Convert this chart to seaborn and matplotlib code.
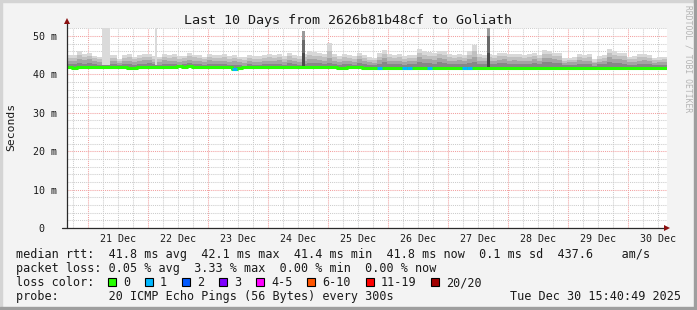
import numpy as np
import pandas as pd
import matplotlib
matplotlib.use("Agg")
import matplotlib.pyplot as plt
import matplotlib.dates as mdates
from matplotlib.ticker import MultipleLocator, FuncFormatter
from matplotlib.patches import Rectangle
import seaborn as sns

# ------------------------------------------------------------------ data
start_time = "2025-12-20 15:40:49"
end_time = "2025-12-30 15:40:49"
bin_hours = 2

rtt_median = [
    42.0, 41.7, 42.0, 42.0, 42.0, 42.0, 41.9, 42.0, 41.8, 42.0,
    41.9, 41.9, 41.7, 41.7, 41.9, 42.0, 41.9, 41.9, 41.9, 41.9,
    41.8, 42.0, 42.1, 42.0, 42.1, 42.0, 41.9, 41.8, 41.8, 41.8,
    41.8, 41.8, 41.8, 41.5, 41.7, 41.8, 41.8, 41.8, 41.8, 41.8,
    41.8, 41.8, 41.8, 41.8, 41.8, 41.8, 41.8, 41.8, 41.8, 41.8,
    41.8, 41.8, 41.8, 41.8, 41.7, 41.7, 41.8, 41.8, 41.8, 41.7,
    41.7, 41.7, 41.7, 41.7, 41.7, 41.7, 41.7, 41.7, 41.7, 41.7,
    41.7, 41.7, 41.7, 41.7, 41.7, 41.7, 41.7, 41.7, 41.7, 41.7,
    41.7, 41.7, 41.7, 41.7, 41.7, 41.7, 41.7, 41.7, 41.7, 41.7,
    41.7, 41.7, 41.7, 41.7, 41.7, 41.7, 41.7, 41.7, 41.7, 41.7,
    41.7, 41.7, 41.7, 41.7, 41.7, 41.7, 41.7, 41.7, 41.7, 41.7,
    41.7, 41.7, 41.7, 41.7, 41.7, 41.7, 41.7, 41.7, 41.7, 41.7,
]
rtt_min = [
    41.5, 41.4, 41.5, 41.5, 41.6, 41.5, 41.5, 41.6, 41.4, 41.5,
    41.5, 41.4, 41.4, 41.4, 41.5, 41.6, 41.5, 41.5, 41.5, 41.5,
    41.4, 41.6, 41.6, 41.6, 41.6, 41.5, 41.5, 41.4, 41.4, 41.4,
    41.4, 41.4, 41.4, 41.1, 41.3, 41.4, 41.4, 41.4, 41.4, 41.4,
    41.4, 41.4, 41.4, 41.4, 41.4, 41.4, 41.4, 41.4, 41.4, 41.4,
    41.4, 41.4, 41.4, 41.4, 41.3, 41.3, 41.4, 41.4, 41.4, 41.3,
    41.3, 41.3, 41.3, 41.3, 41.3, 41.3, 41.3, 41.3, 41.3, 41.3,
    41.3, 41.3, 41.3, 41.3, 41.3, 41.3, 41.3, 41.3, 41.3, 41.3,
    41.3, 41.3, 41.3, 41.3, 41.3, 41.3, 41.3, 41.3, 41.3, 41.3,
    41.3, 41.3, 41.3, 41.3, 41.3, 41.3, 41.3, 41.3, 41.3, 41.3,
    41.3, 41.3, 41.3, 41.3, 41.3, 41.2, 41.3, 41.3, 41.3, 41.3,
    41.3, 41.3, 41.3, 41.3, 41.3, 41.3, 41.3, 41.3, 41.3, 41.3,
]
smoke_q1 = [
    42.7, 42.6, 43.0, 42.8, 42.9, 42.6, 42.5, 42.8, 42.7, 42.6,
    42.4, 42.6, 42.7, 42.5, 42.7, 42.8, 42.9, 42.6, 42.5, 42.8,
    42.7, 42.8, 42.5, 42.6, 42.9, 42.7, 42.6, 42.5, 42.8, 42.7,
    42.6, 42.7, 42.5, 42.4, 42.4, 42.3, 42.6, 42.5, 42.5, 42.7,
    42.7, 42.6, 42.8, 42.5, 42.9, 42.7, 42.5, 42.7, 43.0, 42.9,
    42.9, 42.7, 43.0, 42.8, 42.5, 42.7, 42.6, 42.5, 42.9, 42.6,
    42.4, 42.4, 42.8, 43.1, 42.7, 42.6, 42.7, 42.5, 42.6, 42.6,
    43.2, 43.0, 42.9, 42.8, 43.1, 43.0, 42.7, 42.6, 42.8, 42.7,
    43.0, 43.3, 42.7, 42.6, 42.7, 42.7, 42.9, 42.9, 42.7, 42.8,
    42.7, 42.6, 42.7, 42.9, 42.6, 43.2, 43.1, 42.9, 42.9, 42.4,
    42.4, 42.5, 42.8, 42.7, 42.7, 42.3, 42.6, 42.6, 43.2, 43.0,
    42.9, 42.8, 42.5, 42.5, 42.7, 42.8, 42.7, 42.4, 42.4, 42.5,
]
smoke_q2 = [
    43.5, 43.4, 44.0, 43.7, 43.9, 43.4, 43.2, 43.6, 43.5, 43.4,
    43.0, 43.4, 43.6, 43.2, 43.5, 43.7, 43.8, 43.3, 43.2, 43.7,
    43.5, 43.6, 43.2, 43.4, 43.8, 43.6, 43.4, 43.2, 43.7, 43.5,
    43.4, 43.6, 43.3, 43.4, 43.1, 43.0, 43.4, 43.3, 43.2, 43.5,
    43.6, 43.4, 43.7, 43.3, 43.8, 43.5, 43.2, 43.6, 44.1, 43.9,
    43.8, 43.5, 44.2, 43.6, 43.3, 43.6, 43.4, 43.2, 43.9, 43.4,
    43.1, 43.0, 43.7, 44.2, 43.6, 43.4, 43.6, 43.3, 43.5, 43.4,
    44.4, 44.1, 43.9, 43.8, 44.2, 44.0, 43.5, 43.4, 43.7, 43.5,
    44.0, 44.6, 43.6, 43.4, 43.6, 43.5, 43.8, 43.9, 43.5, 43.7,
    43.6, 43.4, 43.6, 43.9, 43.4, 44.3, 44.2, 43.9, 43.8, 43.0,
    43.1, 43.2, 43.7, 43.5, 43.6, 42.9, 43.3, 43.4, 44.4, 44.1,
    43.9, 43.8, 43.2, 43.3, 43.6, 43.7, 43.5, 43.0, 43.1, 43.2,
]
smoke_q3 = [
    44.3, 44.2, 45.0, 44.5, 44.8, 44.2, 43.9, 44.5, 44.3, 44.2,
    43.5, 44.2, 44.4, 44.0, 44.3, 44.5, 44.6, 44.0, 43.9, 44.6,
    44.3, 44.4, 44.0, 44.2, 44.7, 44.4, 44.2, 43.9, 44.5, 44.3,
    44.2, 44.5, 44.1, 44.3, 43.9, 43.8, 44.2, 44.1, 44.0, 44.3,
    44.5, 44.2, 44.6, 44.1, 44.7, 44.3, 44.0, 44.4, 45.1, 44.9,
    44.7, 44.4, 46.0, 44.5, 44.1, 44.5, 44.3, 44.0, 44.8, 44.3,
    43.8, 43.7, 44.6, 45.3, 44.4, 44.2, 44.5, 44.1, 44.3, 44.2,
    45.6, 45.1, 44.9, 44.7, 45.2, 45.0, 44.4, 44.2, 44.6, 44.3,
    45.0, 46.2, 44.4, 44.2, 44.5, 44.3, 44.7, 44.8, 44.4, 44.6,
    44.4, 44.2, 44.5, 44.8, 44.2, 45.4, 45.2, 44.8, 44.7, 43.6,
    43.7, 43.8, 44.5, 44.3, 44.4, 43.3, 44.0, 44.2, 45.6, 45.1,
    44.8, 44.7, 43.9, 44.0, 44.4, 44.6, 44.3, 43.7, 43.8, 43.9,
]
rtt_max = [
    45.0, 45.0, 46.0, 45.2, 45.6, 44.9, 44.5, 45.3, 45.0, 45.0,
    44.0, 45.0, 45.2, 44.6, 45.0, 45.2, 45.3, 44.8, 44.6, 45.4,
    45.0, 45.2, 44.7, 44.9, 45.5, 45.1, 45.0, 44.6, 45.2, 45.0,
    45.0, 45.3, 44.9, 45.1, 44.6, 44.4, 45.0, 44.8, 44.8, 45.0,
    45.3, 45.0, 45.4, 44.9, 45.5, 45.0, 44.8, 45.2, 46.0, 45.8,
    45.5, 45.2, 48.3, 45.2, 44.9, 45.3, 45.0, 44.8, 45.6, 45.0,
    44.5, 44.3, 45.5, 46.4, 45.2, 45.0, 45.3, 44.9, 45.1, 45.0,
    46.7, 46.0, 45.8, 45.6, 46.1, 46.0, 45.2, 45.0, 45.4, 45.1,
    46.0, 47.6, 45.2, 45.0, 45.3, 45.1, 45.5, 45.6, 45.2, 45.4,
    45.2, 45.0, 45.3, 45.7, 45.0, 46.4, 46.2, 45.7, 45.6, 44.2,
    44.3, 44.5, 45.3, 45.1, 45.2, 43.9, 44.8, 45.0, 46.6, 46.0,
    45.6, 45.5, 44.6, 44.7, 45.2, 45.4, 45.1, 44.3, 44.5, 44.6,
]
loss_count = [0] * 120
for _i in (33, 62, 67, 68, 72, 79, 80):
    loss_count[_i] = 1

# isolated outliers (hours since start, rtt of the high pings in m)
outlier_start_h = [14.0, 35.2, 94.0, 168.0]
outlier_end_h = [17.2, 36.0, 95.2, 169.2]
outlier_core = [45.0, 45.0, 49.0, 50.0]
outlier_top = [58.0, 58.0, 51.3, 58.0]

loss_labels = ["0", "1", "2", "3", "4-5", "6-10", "11-19", "20/20"]
loss_colors = ["#26ff00", "#00b8ff", "#0059ff", "#7e00ff",
               "#ff00ff", "#ff5500", "#ff0000", "#a10000"]

y_ticks = [0, 10, 20, 30, 40, 50]
y_tick_labels = ["0  ", "10 m", "20 m", "30 m", "40 m", "50 m"]

title = "Last 10 Days from 2626b81b48cf to Goliath"
stats_rtt = "median rtt:  41.8 ms avg  42.1 ms max  41.4 ms min  41.8 ms now  0.1 ms sd  437.6    am/s"
stats_loss = "packet loss: 0.05 % avg  3.33 % max  0.00 % min  0.00 % now"
probe_line = "probe:       20 ICMP Echo Pings (56 Bytes) every 300s"
stamp = "Tue Dec 30 15:40:49 2025"

# ------------------------------------------------------------------ figure
sns.set_style("white")
plt.rcParams["font.family"] = ["DejaVu Sans Mono"]

W, H = 697, 310
fig = plt.figure(figsize=(W / 100, H / 100), dpi=100, facecolor="#f3f3f3")

def fx(px):
    return px / W

def fy(py):
    return 1 - py / H

# frame
for (x0, y0, w, h, c) in [(0, 0, W, 2, "#d4d4d4"), (0, 0, 2, H, "#d4d4d4"),
                          (W - 3, 0, 3, H, "#9e9e9e"), (0, H - 3, W, 3, "#9e9e9e")]:
    fig.patches.append(Rectangle((fx(x0), fy(y0 + h)), w / W, h / H,
                                 transform=fig.transFigure, color=c, zorder=0))

ax = fig.add_axes([fx(67), fy(228), 600 / W, 200 / H])
ax.set_facecolor("white")

t0 = pd.Timestamp(start_time)
t_end = pd.Timestamp(end_time)
n = len(rtt_median)
edges = pd.date_range(t0, periods=n + 1, freq=f"{bin_hours}h")

def ext(a):
    a = list(a)
    return np.array(a + [a[-1]])

shades = ["#d8d8d8", "#c0c0c0", "#a4a4a4", "#878787"]
layers = [rtt_max, smoke_q3, smoke_q2, smoke_q1]
for vals, col in zip(layers, shades):
    ax.fill_between(edges, ext(rtt_min), ext(vals), step="post", color=col, lw=0, zorder=2)

for s, e, core, top in zip(outlier_start_h, outlier_end_h, outlier_core, outlier_top):
    ts = t0 + pd.Timedelta(hours=s)
    te = t0 + pd.Timedelta(hours=e)
    light = core < 46
    ax.fill_between([ts, te], [42.5, 42.5], [top, top],
                    color="#dadada" if light else "#9a9a9a", lw=0, zorder=2)
    if not light:
        ax.fill_between([ts, te], [42.0, 42.0], [core, core], color="#6a6a6a", lw=0, zorder=2)
        ax.fill_between([ts, te], [42.0, 42.0], [45.5, 45.5], color="#4a4a4a", lw=0, zorder=2)

df = pd.DataFrame({"time": edges, "median": ext(rtt_median)})
sns.lineplot(data=df, x="time", y="median", ax=ax, drawstyle="steps-post",
             color=loss_colors[0], lw=2.2, estimator=None, zorder=4)
for i, lc in enumerate(loss_count):
    if lc > 0:
        ax.hlines(rtt_median[i], edges[i], edges[i + 1], color=loss_colors[lc], lw=2.2, zorder=5)

ax.set_xlim(t0, t_end)
ax.set_ylim(0, 52.08)
ax.set_xlabel("")
ax.set_ylabel("")

# grid
ax.set_axisbelow(True)
ax.xaxis.set_major_locator(mdates.DayLocator())
ax.xaxis.set_major_formatter(FuncFormatter(lambda v, p: ""))
ax.xaxis.set_minor_locator(mdates.HourLocator(byhour=[6, 12, 18]))
def _minor_fmt(v, p):
    d = mdates.num2date(v)
    return d.strftime("%d Dec") if d.hour == 12 else ""
ax.xaxis.set_minor_formatter(FuncFormatter(_minor_fmt))
ax.yaxis.set_minor_locator(MultipleLocator(2))
ax.set_yticks(y_ticks)
ax.set_yticklabels(y_tick_labels)

ax.grid(which="major", color="#f2a0a0", lw=0.75, linestyle=(0, (1, 1)), zorder=1)
ax.grid(which="minor", color="#cccccc", lw=0.75, linestyle=(0, (1, 1)), zorder=1)
ax.tick_params(axis="x", which="major", length=2, width=0.7, color="#333333", pad=0)
ax.tick_params(axis="x", which="minor", length=0, pad=4, labelsize=7.2, labelcolor="#1a1a1a")
ax.tick_params(axis="y", which="major", length=3, width=0.7, color="#333333", pad=4,
               labelsize=7.2, labelcolor="#1a1a1a")
ax.tick_params(axis="y", which="minor", length=0)
for sp in ax.spines.values():
    sp.set_visible(False)

# axis lines with arrows
axc = "#2a2a2a"
ax.plot([0, 0], [0, 1.035], transform=ax.transAxes, color=axc, lw=0.9, clip_on=False, zorder=6)
ax.plot([-0.008, 1.0], [0, 0], transform=ax.transAxes, color=axc, lw=0.9, clip_on=False, zorder=6)
ax.plot([1.0], [0], transform=ax.transAxes, marker=">", ms=4.5, color="#8b1010",
        clip_on=False, zorder=7, markeredgewidth=0)
ax.plot([0], [1.035], transform=ax.transAxes, marker="^", ms=4.5, color="#8b1010",
        clip_on=False, zorder=7, markeredgewidth=0)

# texts
tc = "#1a1a1a"
fig.text(fx(348.5), fy(24), title, ha="center", va="baseline", fontsize=9.6, color=tc)
fig.text(fx(11), fy(127), "Seconds", rotation=90, ha="center", va="center", fontsize=8.2, color=tc)
fig.text(fx(688), fy(59), "RRDTOOL / TOBI OETIKER", rotation=270, ha="center", va="center",
         fontsize=5.8, color="#b4b4b4")

fs = 8.45
fig.text(fx(16), fy(258), stats_rtt, ha="left", va="baseline", fontsize=fs, color=tc)
fig.text(fx(16), fy(272), stats_loss, ha="left", va="baseline", fontsize=fs, color=tc)
fig.text(fx(16), fy(286), "loss color:", ha="left", va="baseline", fontsize=fs, color=tc)
fig.text(fx(16), fy(300), probe_line, ha="left", va="baseline", fontsize=fs, color=tc)
fig.text(fx(681), fy(300), stamp, ha="right", va="baseline", fontsize=fs, color=tc)

bx = 108.0
for lab, col in zip(loss_labels, loss_colors):
    fig.patches.append(Rectangle((fx(bx), fy(286)), 8 / W, 8 / H, transform=fig.transFigure,
                                 facecolor=col, edgecolor="black", lw=0.8, zorder=3))
    fig.text(fx(bx + 15), fy(286), lab, ha="left", va="baseline", fontsize=fs, color=tc)
    bx += len(lab) * 7.07 + 30

fig.savefig("out.png", dpi=100, facecolor=fig.get_facecolor())
